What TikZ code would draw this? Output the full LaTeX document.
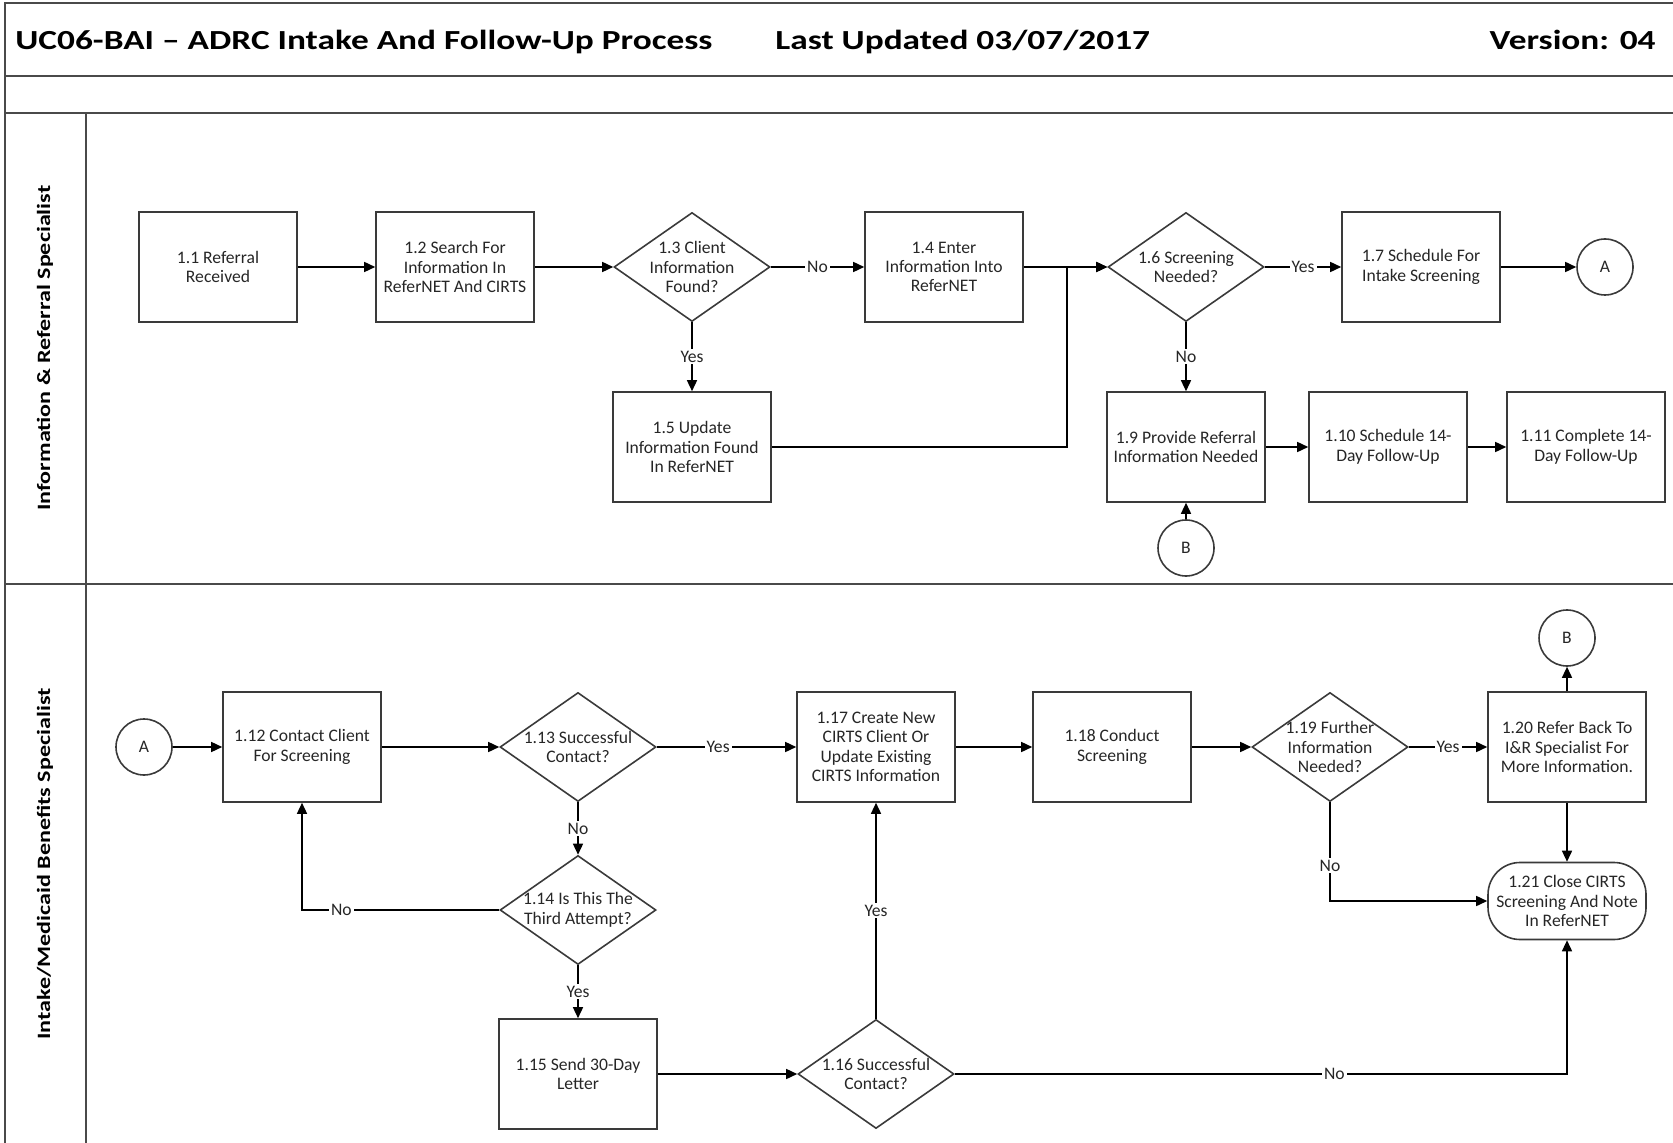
\documentclass[tikz,border=0pt]{standalone}
\usepackage{fontspec}
\setmainfont{Carlito}
\newfontfamily\widefont[FakeStretch=1.28]{Carlito}
\usetikzlibrary{shapes.geometric, arrows.meta, positioning}

\definecolor{linegray}{HTML}{3A3A3A}
\definecolor{framegray}{HTML}{4A4A4A}
\definecolor{textgray}{HTML}{262626}

\begin{document}
\begin{tikzpicture}[
        x=0.5pt, y=-0.5pt,
        stepbox/.style={rectangle, draw=linegray, line width=0.8pt, align=center, minimum width=79pt, minimum height=55pt, inner sep=1pt, font=\fontsize{8.8}{9.7}\selectfont, text=textgray},
        endbox/.style={stepbox, rounded corners=16pt, minimum height=38.5pt},
        decision/.style={diamond, draw=linegray, line width=0.8pt, aspect=1.43, minimum width=78pt, minimum height=54.5pt, inner sep=0pt},
        qtext/.style={align=center, font=\fontsize{8.8}{9.7}\selectfont, text=textgray, inner sep=0pt},
        connector/.style={circle, draw=linegray, line width=0.8pt, minimum size=28pt, inner sep=0pt, font=\fontsize{8.8}{9.7}\selectfont, text=textgray},
        heading/.style={inner sep=0pt, font=\widefont\fontsize{13.8}{16}\selectfont\bfseries},
        lane/.style={rotate=90, inner sep=0pt, font=\widefont\fontsize{9.4}{11}\selectfont\bfseries},
        frame/.style={framegray, line width=1.1pt},
        arrow/.style={-{Triangle[length=5.5pt, width=5pt]}, line width=0.75pt},
        lbl/.style={fill=white, inner sep=1pt, font=\fontsize{8.8}{9.7}\selectfont, text=textgray}
    ]

    \useasboundingbox (0,0) rectangle (1673,1143);

    \draw[frame] (5,1143) -- (5,3) -- (1673,3);
    \draw[frame] (5,76) -- (1673,76);
    \draw[frame] (5,113) -- (1673,113);
    \draw[frame] (5,584) -- (1673,584);
    \draw[frame] (86,113) -- (86,1143);

    \node[heading, anchor=base west] (title) at (15,50) {UC06-BAI – ADRC Intake And Follow-Up Process};
    \node[heading, anchor=base west] (updated) at (775,50) {Last Updated 03/07/2017};
    \node[heading, anchor=base east] (version) at (1656,50) {Version: 04};

    \node[lane] (laneIR) at (45,348) {Information \& Referral Specialist};
    \node[lane] (laneIM) at (45,864) {Intake/Medicaid Benefits Specialist};

    \node[stepbox] (e11) at (218,267) {1.1 Referral\\Received};
    \node[stepbox] (e12) at (455,267) {1.2 Search For\\Information In\\ReferNET And CIRTS};
    \node[decision, label={[qtext]center:{1.3 Client\\Information\\Found?}}] (d13) at (692,267) {};
    \node[stepbox] (e14) at (944,267) {1.4 Enter\\Information Into\\ReferNET};
    \node[stepbox] (e15) at (692,447) {1.5 Update\\Information Found\\In ReferNET};
    \node[decision, label={[qtext]center:{1.6 Screening\\Needed?}}] (d16) at (1186,267) {};
    \node[stepbox] (e17) at (1421,267) {1.7 Schedule For\\Intake Screening};
    \node[connector] (cA1) at (1605,267) {A};
    \node[stepbox] (e19) at (1186,447) {1.9 Provide Referral\\Information Needed};
    \node[stepbox] (e110) at (1388,447) {1.10 Schedule 14-\\Day Follow-Up};
    \node[stepbox] (e111) at (1586,447) {1.11 Complete 14-\\Day Follow-Up};
    \node[connector] (cB1) at (1186,548) {B};

    \node[connector] (cA2) at (144,747) {A};
    \node[stepbox] (e112) at (302,747) {1.12 Contact Client\\For Screening};
    \node[decision, label={[qtext]center:{1.13 Successful\\Contact?}}] (d113) at (578,747) {};
    \node[decision, label={[qtext]center:{1.14 Is This The\\Third Attempt?}}] (d114) at (578,910) {};
    \node[stepbox] (e115) at (578,1074) {1.15 Send 30-Day\\Letter};
    \node[decision, label={[qtext]center:{1.16 Successful\\Contact?}}] (d116) at (876,1074) {};
    \node[stepbox] (e117) at (876,747) {1.17 Create New\\CIRTS Client Or\\Update Existing\\CIRTS Information};
    \node[stepbox] (e118) at (1112,747) {1.18 Conduct\\Screening};
    \node[decision, label={[qtext]center:{1.19 Further\\Information\\Needed?}}] (d119) at (1330,747) {};
    \node[stepbox] (e120) at (1567,747) {1.20 Refer Back To\\I\&R Specialist For\\More Information.};
    \node[connector] (cB2) at (1567,638) {B};
    \node[endbox] (t121) at (1567,901) {1.21 Close CIRTS\\Screening And Note\\In ReferNET};

    \coordinate (jn) at (1067,267);

    \draw[arrow] (e11) -- (e12);
    \draw[arrow] (e12) -- (d13.west);
    \draw[arrow] (d13.east) -- node[lbl] {No} (e14);
    \draw[arrow] (d13.south) -- node[lbl] {Yes} (e15);
    \draw[arrow] (e14) -- (d16.west);
    \draw[arrow] (e15.east) -| (jn) -- (d16.west);
    \draw[arrow] (d16.east) -- node[lbl] {Yes} (e17);
    \draw[arrow] (d16.south) -- node[lbl] {No} (e19);
    \draw[arrow] (e17) -- (cA1);
    \draw[arrow] (e19) -- (e110);
    \draw[arrow] (e110) -- (e111);
    \draw[arrow] (cB1) -- (e19);

    \draw[arrow] (cA2) -- (e112);
    \draw[arrow] (e112) -- (d113.west);
    \draw[arrow] (d113.east) -- node[lbl, pos=0.44] {Yes} (e117);
    \draw[arrow] (d113.south) -- node[lbl] {No} (d114.north);
    \draw[arrow] (d114.west) -| node[lbl, pos=0.4] {No} (e112.south);
    \draw[arrow] (d114.south) -- node[lbl] {Yes} (e115);
    \draw[arrow] (e115) -- (d116.west);
    \draw[arrow] (d116.north) -- node[lbl] {Yes} (e117);
    \draw[arrow] (d116.east) -| node[lbl, pos=0.31] {No} (t121.south);
    \draw[arrow] (e117) -- (e118);
    \draw[arrow] (e118) -- (d119.west);
    \draw[arrow] (d119.east) -- node[lbl] {Yes} (e120);
    \draw[arrow] (d119.south) |- node[lbl, pos=0.32] {No} (t121.west);
    \draw[arrow] (e120) -- (cB2);
    \draw[arrow] (e120) -- (t121);

\end{tikzpicture}
\end{document}
